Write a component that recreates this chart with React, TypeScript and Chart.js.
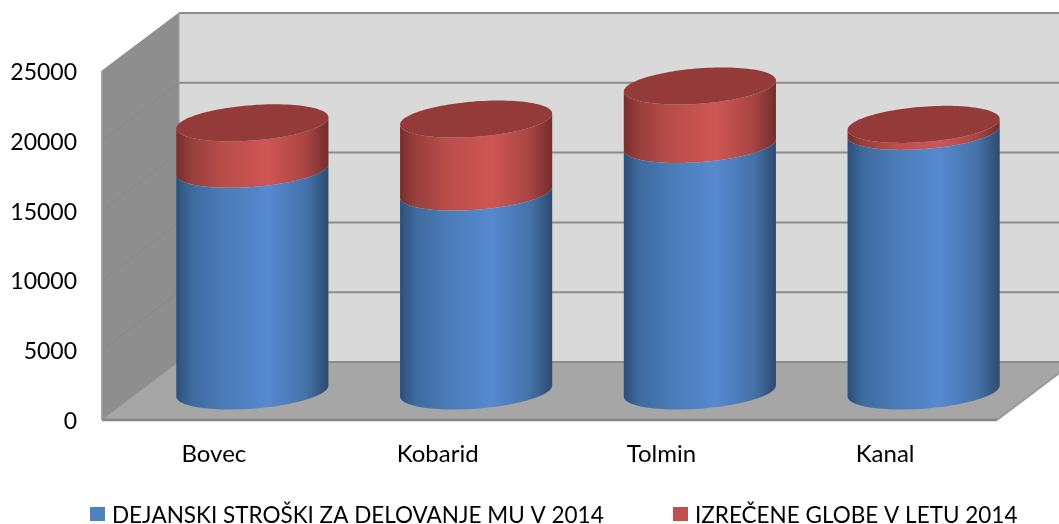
import React, { useEffect, useRef } from "react";
import { Chart, registerables, BarController, BarElement } from "chart.js";

const categories = ["Bovec", "Kobarid", "Tolmin", "Kanal"];
const stroskiValues = [15880, 14250, 17660, 18600];
const globeValues = [3330, 5230, 4190, 500];
const stroskiLabel = "DEJANSKI STROŠKI ZA DELOVANJE MU V 2014";
const globeLabel = "IZREČENE GLOBE V LETU 2014";

const FONT = "Lato, Carlito, sans-serif";
const DEPTH_X = 77;
const DEPTH_Y = 58;

const BLUE_STOPS: [number, string][] = [
  [0, "#2d4f78"], [0.1, "#3e6a9e"], [0.3, "#4a7bb6"], [0.6, "#5689cf"], [0.85, "#4573a9"], [1, "#2c4b71"],
];
const RED_STOPS: [number, string][] = [
  [0, "#772e2c"], [0.1, "#983f3c"], [0.3, "#b84d4a"], [0.6, "#cf5654"], [0.85, "#a84543"], [1, "#742d2b"],
];

class CylinderElement extends BarElement {
  static id = "cylinder";
  draw(ctx: CanvasRenderingContext2D) {
    const { x, y, base, width } = (this as any).getProps(["x", "y", "base", "width"], true);
    const a = width / 2;
    const cx = x + DEPTH_X / 2;
    const top = y - DEPTH_Y / 2;
    const bot = base - DEPTH_Y / 2;
    const shear = -5.5 / 76;
    const b = 17.7;
    const ds = (this as any).ds;
    const grad = ctx.createLinearGradient(cx - a, 0, cx + a, 0);
    (ds.stops as [number, string][]).forEach(([o, c]) => grad.addColorStop(o, c));
    ctx.save();
    ctx.beginPath();
    // lower rim: from right to left through the front
    for (let i = 0; i <= 60; i++) {
      const t = (Math.PI * i) / 60;
      const dx = a * Math.cos(t);
      ctx.lineTo(cx + dx, bot + dx * shear + b * Math.sin(t));
    }
    // upper rim: from left to right through the front
    for (let i = 60; i >= 0; i--) {
      const t = (Math.PI * i) / 60;
      const dx = a * Math.cos(t);
      ctx.lineTo(cx + dx, top + dx * shear + b * Math.sin(t));
    }
    ctx.closePath();
    ctx.fillStyle = grad;
    ctx.fill();
    if (ds.cap) {
      ctx.beginPath();
      for (let i = 0; i <= 120; i++) {
        const t = (2 * Math.PI * i) / 120;
        const dx = a * Math.cos(t);
        ctx.lineTo(cx + dx, top + dx * shear + b * Math.sin(t));
      }
      ctx.closePath();
      ctx.fillStyle = ds.cap;
      ctx.fill();
    }
    ctx.restore();
  }
}

class CylinderController extends BarController {
  static id = "cylinder";
  static defaults = { dataElementType: "cylinder" };
  static overrides = (BarController as any).overrides;
  draw() {
    const ds = this.getDataset();
    (this as any)._cachedMeta.data.forEach((el: any) => { el.ds = ds; });
    super.draw();
  }
}

const wallsPlugin = {
  id: "walls",
  beforeDatasetsDraw(chart: any) {
    const ctx: CanvasRenderingContext2D = chart.ctx;
    const { left, right, top, bottom } = chart.chartArea;
    const W = chart.width;
    const poly = (pts: number[][], fill: string) => {
      ctx.beginPath();
      pts.forEach(([px, py]) => ctx.lineTo(px, py));
      ctx.closePath();
      ctx.fillStyle = fill;
      ctx.fill();
    };
    const line = (x1: number, y1: number, x2: number, y2: number, c: string, w: number) => {
      ctx.beginPath();
      ctx.moveTo(x1, y1);
      ctx.lineTo(x2, y2);
      ctx.strokeStyle = c;
      ctx.lineWidth = w;
      ctx.stroke();
    };
    const bx = left + DEPTH_X;
    ctx.save();
    poly([[bx, top - DEPTH_Y], [W, top - DEPTH_Y], [W, bottom - DEPTH_Y], [bx, bottom - DEPTH_Y]], "#d9d9d9");
    poly([[left, top], [bx, top - DEPTH_Y], [bx, bottom - DEPTH_Y], [left, bottom]], "#8e8e8e");
    poly([[left, bottom], [bx, bottom - DEPTH_Y], [right + DEPTH_X, bottom - DEPTH_Y], [right, bottom]], "#a6a6a6");
    const yScale = chart.scales.y;
    yScale.ticks.forEach((t: any) => {
      const py = yScale.getPixelForValue(t.value);
      line(left, py, bx, py - DEPTH_Y, t.value === 0 ? "#9a9a9a" : "#878787", 1);
      line(bx, py - DEPTH_Y, W, py - DEPTH_Y, "#8c8c8c", 2);
    });
    line(left, top, left, bottom, "#a0a0a0", 2);
    line(bx, top - DEPTH_Y, bx, bottom - DEPTH_Y, "#9c9c9c", 1);
    line(left, bottom, right, bottom, "#868686", 2.5);
    line(right, bottom, right + DEPTH_X, bottom - DEPTH_Y, "#9a9a9a", 2);
    ctx.restore();
  },
};

const legendPlugin = {
  id: "fixedLegend",
  afterDraw(chart: any) {
    const ctx: CanvasRenderingContext2D = chart.ctx;
    const entries = [
      { x: 90, ds: chart.data.datasets[0] },
      { x: 673, ds: chart.data.datasets[1] },
    ];
    ctx.save();
    ctx.font = `22.5px ${FONT}`;
    ctx.textBaseline = "middle";
    ctx.textAlign = "left";
    entries.forEach((e) => {
      ctx.fillStyle = e.ds.swatch;
      ctx.fillRect(e.x, 507, 15, 14);
      ctx.fillStyle = "#000000";
      ctx.fillText(e.ds.label, e.x + 22, 515.5);
    });
    ctx.restore();
  },
};

Chart.register(...registerables, CylinderElement as any, CylinderController as any);

export default function App() {
  const ref = useRef<HTMLCanvasElement | null>(null);
  useEffect(() => {
    if (!ref.current) return;
    const chart = new Chart(ref.current, {
      type: "cylinder" as any,
      data: {
        labels: categories,
        datasets: [
          { label: stroskiLabel, data: stroskiValues, stops: BLUE_STOPS, swatch: "#4f81bd", barPercentage: 0.68, categoryPercentage: 1, clip: false } as any,
          { label: globeLabel, data: globeValues, stops: RED_STOPS, cap: "#943b39", swatch: "#c0504d", barPercentage: 0.68, categoryPercentage: 1, clip: false } as any,
        ],
      },
      options: {
        responsive: false,
        animation: false,
        layout: { padding: { top: 71, right: 62, left: 0, bottom: 0 } },
        plugins: { legend: { display: false }, tooltip: { enabled: false }, title: { display: false } },
        scales: {
          x: {
            type: "category",
            stacked: true,
            offset: true,
            grid: { display: false, offset: true },
            border: { display: false },
            ticks: { color: "#000", font: { family: FONT, size: 24 }, padding: 12, maxRotation: 0 },
            afterFit: (s: any) => { s.height = 104; },
          },
          y: {
            type: "linear",
            stacked: true,
            min: 0,
            max: 25000,
            grid: { display: false },
            border: { display: false },
            ticks: { stepSize: 5000, color: "#000", font: { family: FONT, size: 23 }, padding: 17, labelOffset: 1.5, callback: (v: any) => String(v) },
            afterFit: (s: any) => { s.width = 102; },
          },
        },
      } as any,
      plugins: [wallsPlugin, legendPlugin],
    });
    return () => chart.destroy();
  }, []);
  return (
    <div style={{ position: "absolute", left: 0, top: 0, width: 1059, height: 524 }}>
      <canvas ref={ref} width={1059} height={524} style={{ display: "block" }} />
    </div>
  );
}
